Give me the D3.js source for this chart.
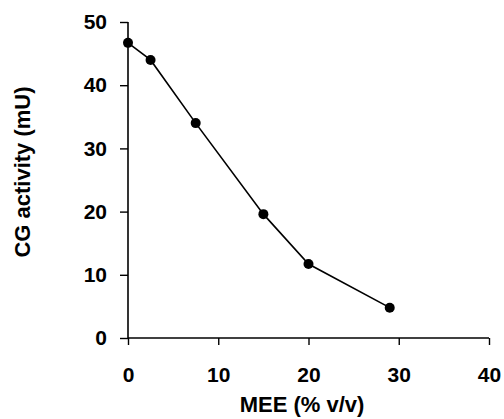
<!DOCTYPE html>
<html>
<head>
<meta charset="utf-8">
<script src="https://cdn.jsdelivr.net/npm/d3@7"></script>
<style>
  body { margin: 0; background: #fff; }
  text { font-family: "Liberation Sans", Arial, sans-serif; font-weight: bold; fill: #000; }
</style>
</head>
<body>
<svg id="chart" width="504" height="419"></svg>
<script>
// data
const meeValues = [0, 2.5, 7.5, 15, 20, 29];
const cgActivity = [46.7, 44.0, 34.0, 19.6, 11.7, 4.8];
const xTicks = [0, 10, 20, 30, 40];
const yTicks = [0, 10, 20, 30, 40, 50];

const svg = d3.select("#chart");
const margin = { left: 128, top: 22, right: 15, bottom: 81 };
const h = 419 - margin.top - margin.bottom;

const x = d3.scaleLinear().domain([0, 40]).range([0, 361]);
const y = d3.scaleLinear().domain([0, 50]).range([h, 0]);

const g = svg.append("g").attr("transform", `translate(${margin.left},${margin.top})`);

// axes
const xAxis = g.append("g")
    .attr("transform", `translate(0,${h})`)
    .call(d3.axisBottom(x).tickValues(xTicks).tickSize(7).tickPadding(22));
const yAxis = g.append("g")
    .call(d3.axisLeft(y).tickValues(yTicks).tickSize(8).tickPadding(13));

[xAxis, yAxis].forEach(a => {
    a.select(".domain").attr("stroke", "#000").attr("stroke-width", 1.6);
    a.selectAll(".tick line").attr("stroke", "#000").attr("stroke-width", 1.4);
    a.selectAll("text").style("font-size", "21px");
});
// plain axis lines, no outer ticks
xAxis.select(".domain").attr("d", `M0,0H${x(40)}`);
yAxis.select(".domain").attr("d", `M0,${h}V${y(50)}`);

const pts = meeValues.map((v, i) => [v, cgActivity[i]]);

g.append("path")
    .datum(pts)
    .attr("fill", "none")
    .attr("stroke", "#000")
    .attr("stroke-width", 1.6)
    .attr("d", d3.line().x(d => x(d[0])).y(d => y(d[1])));

g.selectAll("circle.pt")
    .data(pts)
    .join("circle")
    .attr("class", "pt")
    .attr("cx", d => x(d[0]))
    .attr("cy", d => y(d[1]))
    .attr("r", 5)
    .attr("fill", "#000");

// axis titles
svg.append("text")
    .attr("x", 302)
    .attr("y", 412)
    .attr("text-anchor", "middle")
    .style("font-size", "22px")
    .text("MEE (% v/v)");

svg.append("text")
    .attr("transform", "translate(30,172) rotate(-90)")
    .attr("text-anchor", "middle")
    .style("font-size", "22px")
    .text("CG activity (mU)");
</script>
</body>
</html>
